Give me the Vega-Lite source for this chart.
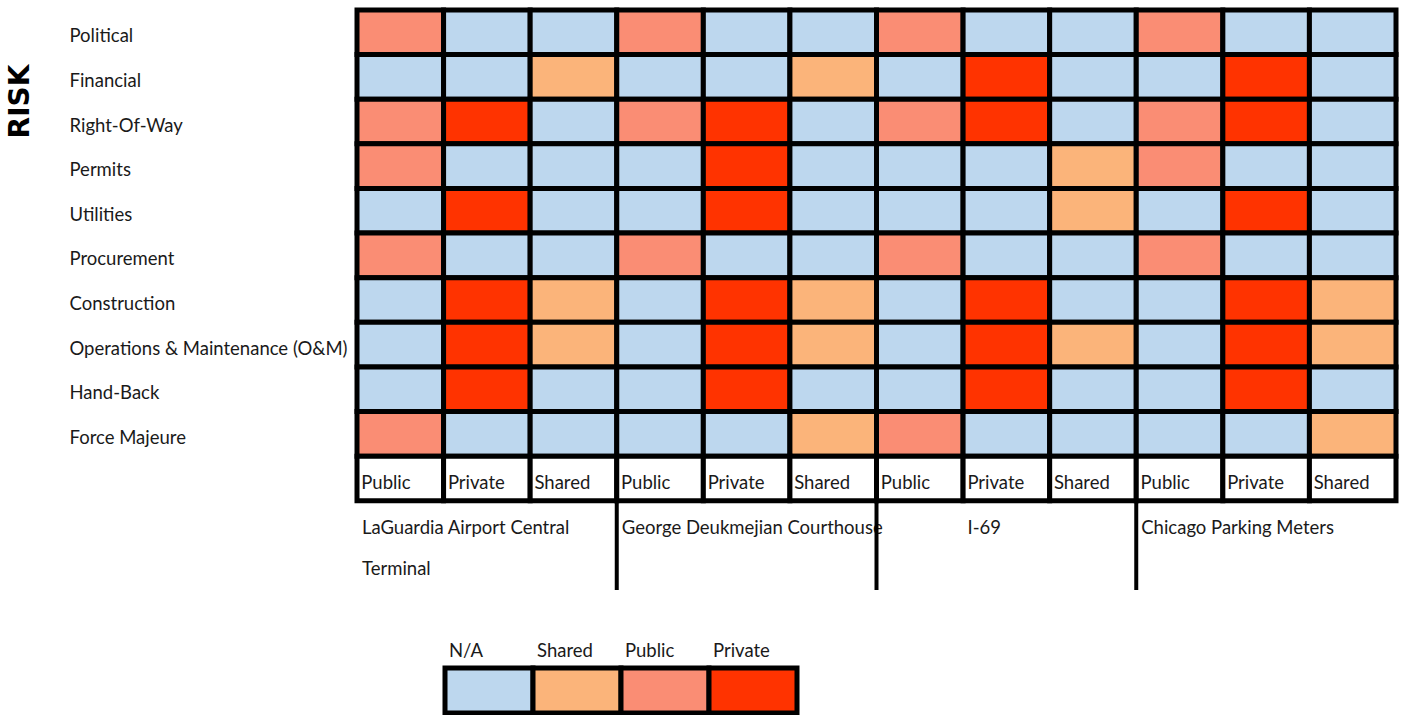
{
  "$schema": "https://vega.github.io/schema/vega-lite/v6.json",
  "background": "white",
  "padding": {"left": 6, "top": 7, "right": 5, "bottom": 0},
  "spacing": 49,
  "config": {"view": {"stroke": null}, "font": "Lato, sans-serif"},
  "datasets": {
    "cells": [
      {"risk":"Political","project":"LaGuardia","role":"Public","alloc":"Public"},
      {"risk":"Political","project":"LaGuardia","role":"Private","alloc":"N/A"},
      {"risk":"Political","project":"LaGuardia","role":"Shared","alloc":"N/A"},
      {"risk":"Political","project":"Courthouse","role":"Public","alloc":"Public"},
      {"risk":"Political","project":"Courthouse","role":"Private","alloc":"N/A"},
      {"risk":"Political","project":"Courthouse","role":"Shared","alloc":"N/A"},
      {"risk":"Political","project":"I-69","role":"Public","alloc":"Public"},
      {"risk":"Political","project":"I-69","role":"Private","alloc":"N/A"},
      {"risk":"Political","project":"I-69","role":"Shared","alloc":"N/A"},
      {"risk":"Political","project":"Chicago","role":"Public","alloc":"Public"},
      {"risk":"Political","project":"Chicago","role":"Private","alloc":"N/A"},
      {"risk":"Political","project":"Chicago","role":"Shared","alloc":"N/A"},

      {"risk":"Financial","project":"LaGuardia","role":"Public","alloc":"N/A"},
      {"risk":"Financial","project":"LaGuardia","role":"Private","alloc":"N/A"},
      {"risk":"Financial","project":"LaGuardia","role":"Shared","alloc":"Shared"},
      {"risk":"Financial","project":"Courthouse","role":"Public","alloc":"N/A"},
      {"risk":"Financial","project":"Courthouse","role":"Private","alloc":"N/A"},
      {"risk":"Financial","project":"Courthouse","role":"Shared","alloc":"Shared"},
      {"risk":"Financial","project":"I-69","role":"Public","alloc":"N/A"},
      {"risk":"Financial","project":"I-69","role":"Private","alloc":"Private"},
      {"risk":"Financial","project":"I-69","role":"Shared","alloc":"N/A"},
      {"risk":"Financial","project":"Chicago","role":"Public","alloc":"N/A"},
      {"risk":"Financial","project":"Chicago","role":"Private","alloc":"Private"},
      {"risk":"Financial","project":"Chicago","role":"Shared","alloc":"N/A"},

      {"risk":"Right-Of-Way","project":"LaGuardia","role":"Public","alloc":"Public"},
      {"risk":"Right-Of-Way","project":"LaGuardia","role":"Private","alloc":"Private"},
      {"risk":"Right-Of-Way","project":"LaGuardia","role":"Shared","alloc":"N/A"},
      {"risk":"Right-Of-Way","project":"Courthouse","role":"Public","alloc":"Public"},
      {"risk":"Right-Of-Way","project":"Courthouse","role":"Private","alloc":"Private"},
      {"risk":"Right-Of-Way","project":"Courthouse","role":"Shared","alloc":"N/A"},
      {"risk":"Right-Of-Way","project":"I-69","role":"Public","alloc":"Public"},
      {"risk":"Right-Of-Way","project":"I-69","role":"Private","alloc":"Private"},
      {"risk":"Right-Of-Way","project":"I-69","role":"Shared","alloc":"N/A"},
      {"risk":"Right-Of-Way","project":"Chicago","role":"Public","alloc":"Public"},
      {"risk":"Right-Of-Way","project":"Chicago","role":"Private","alloc":"Private"},
      {"risk":"Right-Of-Way","project":"Chicago","role":"Shared","alloc":"N/A"},

      {"risk":"Permits","project":"LaGuardia","role":"Public","alloc":"Public"},
      {"risk":"Permits","project":"LaGuardia","role":"Private","alloc":"N/A"},
      {"risk":"Permits","project":"LaGuardia","role":"Shared","alloc":"N/A"},
      {"risk":"Permits","project":"Courthouse","role":"Public","alloc":"N/A"},
      {"risk":"Permits","project":"Courthouse","role":"Private","alloc":"Private"},
      {"risk":"Permits","project":"Courthouse","role":"Shared","alloc":"N/A"},
      {"risk":"Permits","project":"I-69","role":"Public","alloc":"N/A"},
      {"risk":"Permits","project":"I-69","role":"Private","alloc":"N/A"},
      {"risk":"Permits","project":"I-69","role":"Shared","alloc":"Shared"},
      {"risk":"Permits","project":"Chicago","role":"Public","alloc":"Public"},
      {"risk":"Permits","project":"Chicago","role":"Private","alloc":"N/A"},
      {"risk":"Permits","project":"Chicago","role":"Shared","alloc":"N/A"},

      {"risk":"Utilities","project":"LaGuardia","role":"Public","alloc":"N/A"},
      {"risk":"Utilities","project":"LaGuardia","role":"Private","alloc":"Private"},
      {"risk":"Utilities","project":"LaGuardia","role":"Shared","alloc":"N/A"},
      {"risk":"Utilities","project":"Courthouse","role":"Public","alloc":"N/A"},
      {"risk":"Utilities","project":"Courthouse","role":"Private","alloc":"Private"},
      {"risk":"Utilities","project":"Courthouse","role":"Shared","alloc":"N/A"},
      {"risk":"Utilities","project":"I-69","role":"Public","alloc":"N/A"},
      {"risk":"Utilities","project":"I-69","role":"Private","alloc":"N/A"},
      {"risk":"Utilities","project":"I-69","role":"Shared","alloc":"Shared"},
      {"risk":"Utilities","project":"Chicago","role":"Public","alloc":"N/A"},
      {"risk":"Utilities","project":"Chicago","role":"Private","alloc":"Private"},
      {"risk":"Utilities","project":"Chicago","role":"Shared","alloc":"N/A"},

      {"risk":"Procurement","project":"LaGuardia","role":"Public","alloc":"Public"},
      {"risk":"Procurement","project":"LaGuardia","role":"Private","alloc":"N/A"},
      {"risk":"Procurement","project":"LaGuardia","role":"Shared","alloc":"N/A"},
      {"risk":"Procurement","project":"Courthouse","role":"Public","alloc":"Public"},
      {"risk":"Procurement","project":"Courthouse","role":"Private","alloc":"N/A"},
      {"risk":"Procurement","project":"Courthouse","role":"Shared","alloc":"N/A"},
      {"risk":"Procurement","project":"I-69","role":"Public","alloc":"Public"},
      {"risk":"Procurement","project":"I-69","role":"Private","alloc":"N/A"},
      {"risk":"Procurement","project":"I-69","role":"Shared","alloc":"N/A"},
      {"risk":"Procurement","project":"Chicago","role":"Public","alloc":"Public"},
      {"risk":"Procurement","project":"Chicago","role":"Private","alloc":"N/A"},
      {"risk":"Procurement","project":"Chicago","role":"Shared","alloc":"N/A"},

      {"risk":"Construction","project":"LaGuardia","role":"Public","alloc":"N/A"},
      {"risk":"Construction","project":"LaGuardia","role":"Private","alloc":"Private"},
      {"risk":"Construction","project":"LaGuardia","role":"Shared","alloc":"Shared"},
      {"risk":"Construction","project":"Courthouse","role":"Public","alloc":"N/A"},
      {"risk":"Construction","project":"Courthouse","role":"Private","alloc":"Private"},
      {"risk":"Construction","project":"Courthouse","role":"Shared","alloc":"Shared"},
      {"risk":"Construction","project":"I-69","role":"Public","alloc":"N/A"},
      {"risk":"Construction","project":"I-69","role":"Private","alloc":"Private"},
      {"risk":"Construction","project":"I-69","role":"Shared","alloc":"N/A"},
      {"risk":"Construction","project":"Chicago","role":"Public","alloc":"N/A"},
      {"risk":"Construction","project":"Chicago","role":"Private","alloc":"Private"},
      {"risk":"Construction","project":"Chicago","role":"Shared","alloc":"Shared"},

      {"risk":"Operations & Maintenance (O&M)","project":"LaGuardia","role":"Public","alloc":"N/A"},
      {"risk":"Operations & Maintenance (O&M)","project":"LaGuardia","role":"Private","alloc":"Private"},
      {"risk":"Operations & Maintenance (O&M)","project":"LaGuardia","role":"Shared","alloc":"Shared"},
      {"risk":"Operations & Maintenance (O&M)","project":"Courthouse","role":"Public","alloc":"N/A"},
      {"risk":"Operations & Maintenance (O&M)","project":"Courthouse","role":"Private","alloc":"Private"},
      {"risk":"Operations & Maintenance (O&M)","project":"Courthouse","role":"Shared","alloc":"Shared"},
      {"risk":"Operations & Maintenance (O&M)","project":"I-69","role":"Public","alloc":"N/A"},
      {"risk":"Operations & Maintenance (O&M)","project":"I-69","role":"Private","alloc":"Private"},
      {"risk":"Operations & Maintenance (O&M)","project":"I-69","role":"Shared","alloc":"Shared"},
      {"risk":"Operations & Maintenance (O&M)","project":"Chicago","role":"Public","alloc":"N/A"},
      {"risk":"Operations & Maintenance (O&M)","project":"Chicago","role":"Private","alloc":"Private"},
      {"risk":"Operations & Maintenance (O&M)","project":"Chicago","role":"Shared","alloc":"Shared"},

      {"risk":"Hand-Back","project":"LaGuardia","role":"Public","alloc":"N/A"},
      {"risk":"Hand-Back","project":"LaGuardia","role":"Private","alloc":"Private"},
      {"risk":"Hand-Back","project":"LaGuardia","role":"Shared","alloc":"N/A"},
      {"risk":"Hand-Back","project":"Courthouse","role":"Public","alloc":"N/A"},
      {"risk":"Hand-Back","project":"Courthouse","role":"Private","alloc":"Private"},
      {"risk":"Hand-Back","project":"Courthouse","role":"Shared","alloc":"N/A"},
      {"risk":"Hand-Back","project":"I-69","role":"Public","alloc":"N/A"},
      {"risk":"Hand-Back","project":"I-69","role":"Private","alloc":"Private"},
      {"risk":"Hand-Back","project":"I-69","role":"Shared","alloc":"N/A"},
      {"risk":"Hand-Back","project":"Chicago","role":"Public","alloc":"N/A"},
      {"risk":"Hand-Back","project":"Chicago","role":"Private","alloc":"Private"},
      {"risk":"Hand-Back","project":"Chicago","role":"Shared","alloc":"N/A"},

      {"risk":"Force Majeure","project":"LaGuardia","role":"Public","alloc":"Public"},
      {"risk":"Force Majeure","project":"LaGuardia","role":"Private","alloc":"N/A"},
      {"risk":"Force Majeure","project":"LaGuardia","role":"Shared","alloc":"N/A"},
      {"risk":"Force Majeure","project":"Courthouse","role":"Public","alloc":"N/A"},
      {"risk":"Force Majeure","project":"Courthouse","role":"Private","alloc":"N/A"},
      {"risk":"Force Majeure","project":"Courthouse","role":"Shared","alloc":"Shared"},
      {"risk":"Force Majeure","project":"I-69","role":"Public","alloc":"Public"},
      {"risk":"Force Majeure","project":"I-69","role":"Private","alloc":"N/A"},
      {"risk":"Force Majeure","project":"I-69","role":"Shared","alloc":"N/A"},
      {"risk":"Force Majeure","project":"Chicago","role":"Public","alloc":"N/A"},
      {"risk":"Force Majeure","project":"Chicago","role":"Private","alloc":"N/A"},
      {"risk":"Force Majeure","project":"Chicago","role":"Shared","alloc":"Shared"}
    ],
    "header": [
      {"project":"LaGuardia","role":"Public"},{"project":"LaGuardia","role":"Private"},{"project":"LaGuardia","role":"Shared"},
      {"project":"Courthouse","role":"Public"},{"project":"Courthouse","role":"Private"},{"project":"Courthouse","role":"Shared"},
      {"project":"I-69","role":"Public"},{"project":"I-69","role":"Private"},{"project":"I-69","role":"Shared"},
      {"project":"Chicago","role":"Public"},{"project":"Chicago","role":"Private"},{"project":"Chicago","role":"Shared"}
    ],
    "projects": [
      {"project":"LaGuardia","label":["LaGuardia Airport Central","Terminal"]},
      {"project":"Courthouse","label":["George Deukmejian Courthouse"]},
      {"project":"I-69","label":["I-69"]},
      {"project":"Chicago","label":["Chicago Parking Meters"]}
    ],
    "legend": [
      {"alloc":"N/A"},{"alloc":"Shared"},{"alloc":"Public"},{"alloc":"Private"}
    ]
  },
  "vconcat": [
    {
      "width": 1039,
      "height": 580,
      "layer": [
        {
          "data": {"name": "cells"},
          "mark": {"type": "rect", "stroke": "black", "strokeWidth": 5},
          "encoding": {
            "x": {"field": "project", "type": "nominal", "scale": {"domain": ["LaGuardia","Courthouse","I-69","Chicago"], "paddingInner": 0, "paddingOuter": 0}, "axis": null},
            "xOffset": {"field": "role", "type": "nominal", "scale": {"domain": ["Public","Private","Shared"], "paddingInner": 0, "paddingOuter": 0}},
            "y": {
              "field": "risk", "type": "nominal",
              "scale": {"domain": ["Political","Financial","Right-Of-Way","Permits","Utilities","Procurement","Construction","Operations & Maintenance (O&M)","Hand-Back","Force Majeure","hdr","p1","p2"], "paddingInner": 0, "paddingOuter": 0},
              "axis": {
                "title": "RISK", "titleFont": "DejaVu Sans", "titleFontWeight": "bold", "titleFontSize": 28, "titleColor": "black",
                "titleAngle": -90, "titleX": -337, "titleY": 91, "titleBaseline": "middle", "titleAlign": "center",
                "labelAlign": "left", "labelPadding": 288, "ticks": false, "tickSize": 0, "domain": false,
                "labelFont": "Lato", "labelFontSize": 18.5, "labelColor": "#1a1a1a", "labelOffset": 4, "labelLimit": 400,
                "labelExpr": "indexof(['hdr','p1','p2'], datum.value) >= 0 ? '' : datum.value"
              }
            },
            "fill": {"field": "alloc", "type": "nominal", "scale": {"domain": ["N/A","Shared","Public","Private"], "range": ["#BDD7EE","#FBB47A","#FA8D74","#FF3300"]}, "legend": null}
          }
        },
        {
          "data": {"name": "header"},
          "mark": {"type": "rect", "fill": "white", "stroke": "black", "strokeWidth": 5},
          "encoding": {
            "x": {"field": "project", "type": "nominal"},
            "xOffset": {"field": "role", "type": "nominal"},
            "y": {"datum": "hdr", "type": "nominal"}
          }
        },
        {
          "data": {"name": "header"},
          "mark": {"type": "text", "font": "Lato", "align": "left", "baseline": "middle", "dx": -39, "dy": 5, "fontSize": 18.5, "color": "#1a1a1a"},
          "encoding": {
            "x": {"field": "project", "type": "nominal"},
            "xOffset": {"field": "role", "type": "nominal"},
            "y": {"datum": "hdr", "type": "nominal"},
            "text": {"field": "role"}
          }
        },
        {
          "data": {"name": "projects"},
          "mark": {"type": "text", "font": "Lato", "align": "left", "baseline": "alphabetic", "fontSize": 18.5, "lineHeight": 41, "color": "#1a1a1a", "dy": 11, "dx": {"expr": "datum.project === 'I-69' ? 91 : 5"}},
          "encoding": {
            "x": {"field": "project", "type": "nominal", "bandPosition": 0},
            "y": {"datum": "p1", "type": "nominal"},
            "text": {"field": "label"}
          }
        },
        {
          "data": {"name": "projects"},
          "transform": [{"filter": "datum.project !== 'LaGuardia'"}],
          "mark": {"type": "rule", "color": "black", "strokeWidth": 4},
          "encoding": {
            "x": {"field": "project", "type": "nominal", "bandPosition": 0},
            "y": {"datum": "p1", "type": "nominal", "bandPosition": 0},
            "y2": {"datum": "p2", "bandPosition": 1}
          }
        }
      ]
    },
    {
      "width": 440,
      "height": 45,
      "data": {"name": "legend"},
      "layer": [
        {
          "mark": {"type": "rect", "stroke": "black", "strokeWidth": 5},
          "encoding": {
            "x": {"field": "alloc", "type": "nominal", "scale": {"domain": ["", "N/A","Shared","Public","Private"], "paddingInner": 0, "paddingOuter": 0}, "axis": null},
            "fill": {"field": "alloc", "type": "nominal", "scale": {"domain": ["N/A","Shared","Public","Private"], "range": ["#BDD7EE","#FBB47A","#FA8D74","#FF3300"]}, "legend": null}
          }
        },
        {
          "mark": {"type": "text", "font": "Lato", "align": "left", "baseline": "middle", "dx": -40, "dy": -40, "fontSize": 18.5, "color": "#1a1a1a"},
          "encoding": {
            "x": {"field": "alloc", "type": "nominal"},
            "text": {"field": "alloc"}
          }
        }
      ]
    }
  ]
}
